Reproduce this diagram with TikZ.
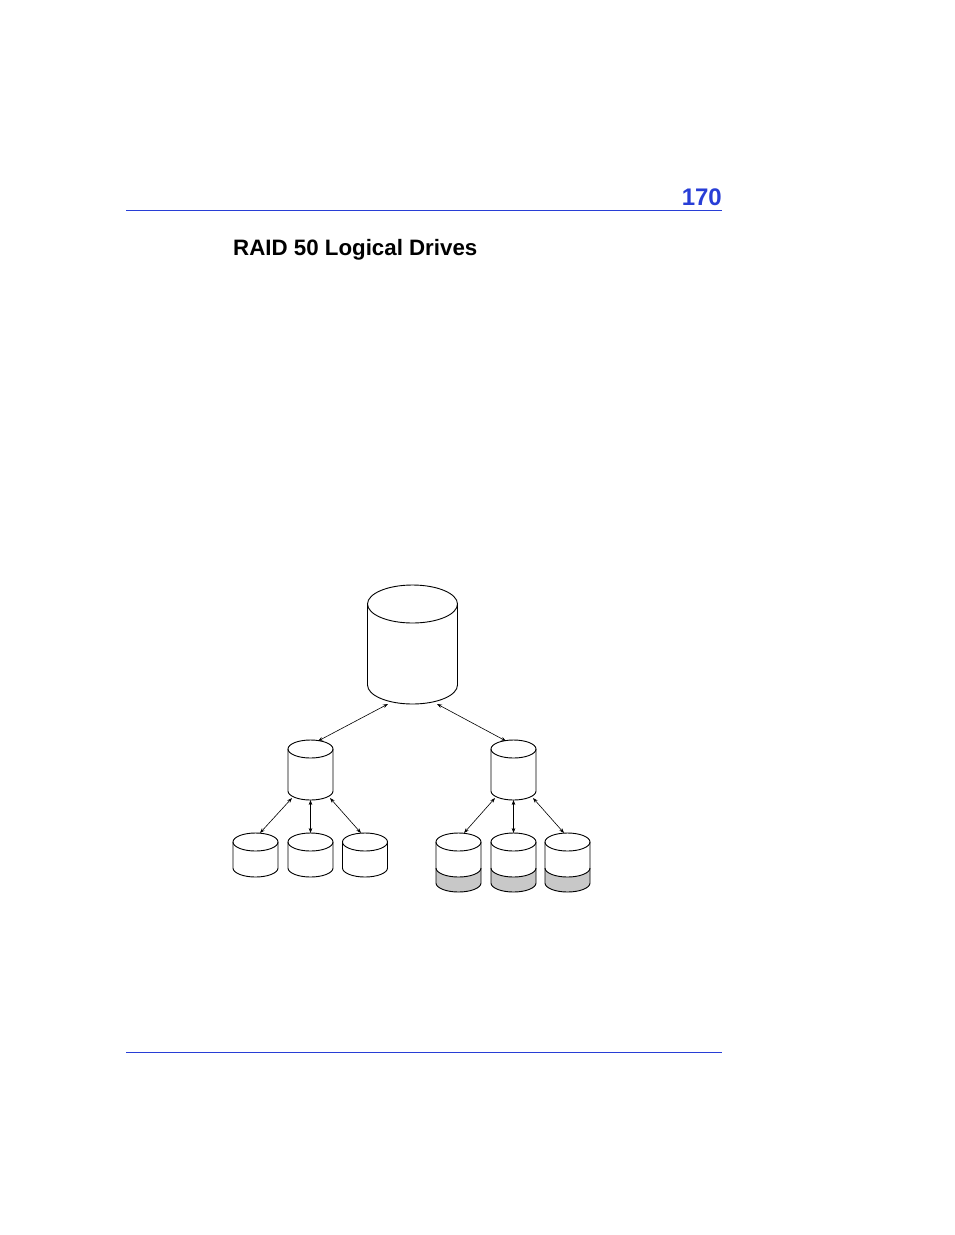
\documentclass[tikz,border=0pt]{standalone}
\usepackage{fontspec}
\setmainfont{Liberation Sans}
\usetikzlibrary{arrows.meta}
\definecolor{hdrblue}{RGB}{40,62,214}
\definecolor{bandgray}{RGB}{200,200,200}
\tikzset{
  outline/.style={draw=black,line width=0.9pt},
  link/.style={line width=0.6pt,{Stealth[length=5pt,width=3.6pt]}-{Stealth[length=5pt,width=3.6pt]}},
  rule/.style={draw=hdrblue,line width=0.9pt},
}
% \drum{cx}{top centre y}{bottom centre y}{rx}{ry}
\newcommand{\drum}[5]{%
  \fill[white] (#1-#4,#2) -- (#1-#4,#3) arc (180:0:#4 and #5) -- (#1+#4,#2) arc (0:180:#4 and #5) -- cycle;
  \draw[outline] (#1-#4,#2) -- (#1-#4,#3) arc (180:0:#4 and #5) -- (#1+#4,#2);
  \draw[outline] (#1,#2) ellipse (#4 and #5);
}
% \banddrum{cx}{top y}{band top y}{bottom y}{rx}{ry}
\newcommand{\banddrum}[6]{%
  \fill[white] (#1-#5,#2) -- (#1-#5,#4) arc (180:0:#5 and #6) -- (#1+#5,#2) arc (0:180:#5 and #6) -- cycle;
  \fill[bandgray] (#1-#5,#3) arc (180:0:#5 and #6) -- (#1+#5,#4) arc (0:180:#5 and #6) -- cycle;
  \draw[outline] (#1-#5,#3) arc (180:0:#5 and #6);
  \draw[outline] (#1-#5,#2) -- (#1-#5,#4) arc (180:0:#5 and #6) -- (#1+#5,#2);
  \draw[outline] (#1,#2) ellipse (#5 and #6);
}
\begin{document}
\begin{tikzpicture}[x=1pt,y=-1pt]
\useasboundingbox (0,0) rectangle (954,1235);
% header
\draw[rule] (126,210) coordinate (hl) -- (722,210) coordinate (hr);
\node[anchor=base east,inner sep=0pt,text=hdrblue,font=\fontsize{24}{28}\selectfont\bfseries] (pagenum) at (722,205) {170};
\node[anchor=base west,inner sep=0pt,font=\fontsize{22.3}{26}\selectfont\bfseries] (title) at (233,255) {RAID 50 Logical Drives};
\draw[rule] (126,1052) coordinate (fl) -- (722,1052) coordinate (fr);

% big cylinder
\drum{412.5}{604}{685}{45}{19}
% medium cylinders
\drum{310.5}{749}{791}{22.5}{9}
\drum{513.5}{749}{791}{22.5}{9}
% small left
\drum{255.5}{842}{868}{22.5}{9}
\drum{310.5}{842}{868}{22.5}{9}
\drum{365}{842}{868}{22.5}{9}
% small right with band
\banddrum{458.5}{842}{868}{883}{22.5}{9}
\banddrum{513.5}{842}{868}{883}{22.5}{9}
\banddrum{567.5}{842}{868}{883}{22.5}{9}

% connector end points
\coordinate (bigL) at (388,704);
\coordinate (bigR) at (437,704);
\coordinate (mlT) at (318,741);
\coordinate (mrT) at (506,741);
\coordinate (mlB1) at (292,798);
\coordinate (mlB2) at (310.5,800);
\coordinate (mlB3) at (330,798);
\coordinate (mrB1) at (495,798);
\coordinate (mrB2) at (513.5,800);
\coordinate (mrB3) at (533,798);
\coordinate (s1) at (260,833);
\coordinate (s2) at (310.5,833);
\coordinate (s3) at (361,833);
\coordinate (s4) at (464,833);
\coordinate (s5) at (513.5,833);
\coordinate (s6) at (564,833);

\draw[link] (bigL) -- (mlT);
\draw[link] (bigR) -- (mrT);
\draw[link] (mlB1) -- (s1);
\draw[link] (mlB2) -- (s2);
\draw[link] (mlB3) -- (s3);
\draw[link] (mrB1) -- (s4);
\draw[link] (mrB2) -- (s5);
\draw[link] (mrB3) -- (s6);
\end{tikzpicture}
\end{document}
